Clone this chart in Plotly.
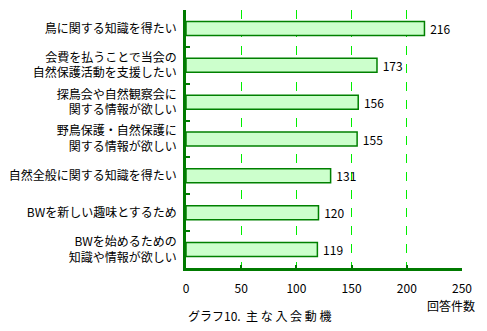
import plotly.graph_objects as go

categories = [
    "鳥に関する知識を得たい",
    "会費を払うことで当会の<br>自然保護活動を支援したい",
    "探鳥会や自然観察会に<br>関する情報が欲しい",
    "野鳥保護・自然保護に<br>関する情報が欲しい",
    "自然全般に関する知識を得たい",
    "BWを新しい趣味とするため",
    "BWを始めるための<br>知識や情報が欲しい",
]
values = [216, 173, 156, 155, 131, 120, 119]
x_ticks = [0, 50, 100, 150, 200, 250]

FONT = "Noto Sans CJK JP"
DARK = "#007a00"

fig = go.Figure(go.Bar(
    x=values, y=categories, orientation="h",
    marker=dict(color="#ccffcc", line=dict(color="#008000", width=1.5)),
    width=0.38,
    text=[" " + str(v) for v in values], textposition="outside",
    constraintext="none",
    textfont=dict(family=FONT, size=12, color="black"),
    cliponaxis=False,
))

fig.update_layout(
    width=487, height=331,
    margin=dict(l=186, r=25, t=10, b=63),
    paper_bgcolor="white", plot_bgcolor="white",
    showlegend=False,
    font=dict(family=FONT, size=12, color="black"),
    xaxis=dict(
        range=[0, 250], tickvals=x_ticks, ticktext=[str(t) for t in x_ticks],
        showgrid=True, gridcolor="#00ee00", griddash="dash", gridwidth=1.4,
        zeroline=False, showline=True, linecolor=DARK, linewidth=2.5,
        ticks="inside", ticklen=3, tickwidth=2, tickcolor=DARK,
        ticklabelstandoff=8, tickfont=dict(family=FONT, size=12),
    ),
    yaxis=dict(
        type="category", autorange="reversed",
        showline=True, linecolor=DARK, linewidth=2.5,
        ticks="inside", tickson="boundaries", ticklen=4, tickwidth=2, tickcolor=DARK,
        showgrid=False, zeroline=False,
        tickfont=dict(family=FONT, size=12),
        ticklabelstandoff=4,
    ),
    annotations=[
        dict(text="回答件数", xref="paper", yref="paper", x=0.96, y=-0.147,
             xanchor="center", yanchor="middle", showarrow=False,
             font=dict(family=FONT, size=12)),
        dict(text="グラフ10.  主 な 入 会 動 機", xref="paper", yref="paper", x=0.0, y=-0.186,
             xanchor="left", yanchor="middle", showarrow=False,
             font=dict(family=FONT, size=12)),
    ],
)

fig.write_html("out.html")
